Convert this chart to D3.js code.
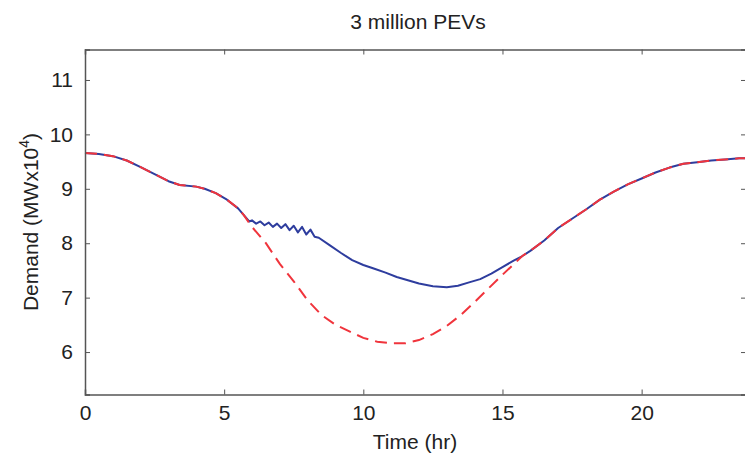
<!DOCTYPE html>
<html>
<head>
<meta charset="utf-8">
<script src="https://cdn.jsdelivr.net/npm/d3@7"></script>
<style>
  body { margin: 0; background: #fff; }
  svg { display: block; font-family: "Liberation Sans", Arial, Helvetica, sans-serif; }
</style>
</head>
<body>
<svg id="chart" width="745" height="457"></svg>
<script>
// chart data
var title = "3 million PEVs";
var xTicks = [0, 5, 10, 15, 20];
var yTicks = [6, 7, 8, 9, 10, 11];

// base demand (red dashed)
var redT = [0, 0.5, 1.0, 1.5, 2.0, 2.5, 3.0, 3.4, 4.0, 4.3, 4.7, 5.1, 5.5, 5.7,
            6.0, 6.5, 7.0, 7.5, 8.0, 8.5, 9.0, 9.5, 10.0, 10.5, 11.0, 11.5, 12.0, 12.5,
            13.0, 13.5, 14.0, 14.5, 15.0, 15.5, 15.7, 16.0, 16.5, 17.0, 17.5, 18.0, 18.5,
            19.0, 19.5, 20.0, 20.5, 21.0, 21.5, 22.0, 22.5, 23.0, 23.5, 23.75];
var redV = [9.66, 9.64, 9.60, 9.52, 9.40, 9.27, 9.14, 9.07, 9.04, 9.00, 8.92, 8.80, 8.64, 8.52,
            8.30, 8.00, 7.62, 7.30, 6.95, 6.68, 6.50, 6.38, 6.26, 6.19, 6.16, 6.16, 6.22, 6.33,
            6.48, 6.68, 6.92, 7.17, 7.42, 7.66, 7.76, 7.86, 8.05, 8.28, 8.45, 8.62, 8.80,
            8.95, 9.08, 9.19, 9.30, 9.39, 9.46, 9.49, 9.52, 9.54, 9.56, 9.56];

// demand with PEV charging (blue solid)
var blueT = [0, 0.5, 1.0, 1.5, 2.0, 2.5, 3.0, 3.4, 4.0, 4.3, 4.7, 5.1, 5.5, 5.7, 5.9,
             6.0, 6.15, 6.3, 6.45, 6.6, 6.75, 6.9, 7.05, 7.2, 7.35, 7.5, 7.65, 7.8, 7.95, 8.1, 8.25,
             8.4, 8.8, 9.2, 9.6, 10.0, 10.4, 10.8, 11.2, 11.6, 12.0, 12.5, 13.0, 13.4, 13.8,
             14.2, 14.6, 15.0, 15.4, 15.7, 16.0, 16.5, 17.0, 17.5, 18.0, 18.5,
             19.0, 19.5, 20.0, 20.5, 21.0, 21.5, 22.0, 22.5, 23.0, 23.5, 23.75];
var blueV = [9.66, 9.64, 9.60, 9.52, 9.40, 9.27, 9.14, 9.07, 9.04, 9.00, 8.92, 8.80, 8.64, 8.52, 8.40,
             8.42, 8.36, 8.40, 8.33, 8.38, 8.30, 8.36, 8.28, 8.35, 8.24, 8.32, 8.20, 8.30, 8.16, 8.25, 8.12,
             8.10, 7.96, 7.82, 7.69, 7.60, 7.53, 7.46, 7.38, 7.32, 7.26, 7.21, 7.19, 7.22, 7.28,
             7.34, 7.44, 7.56, 7.68, 7.76, 7.86, 8.05, 8.28, 8.45, 8.62, 8.80,
             8.95, 9.08, 9.19, 9.30, 9.39, 9.46, 9.49, 9.52, 9.54, 9.56, 9.56];

var margL = 85, margR = 746, margT = 49.5, margB = 394.5;
var fontSize = "21px";

var svg = d3.select("#chart");

var x = d3.scaleLinear().domain([0, 23.75]).range([margL, margR]);
var y = d3.scaleLinear().domain([5.22, 11.56]).range([margB, margT]);

var line = d3.line()
    .x(function(d){ return x(d[0]); })
    .y(function(d){ return y(d[1]); });

var blueData = d3.zip(blueT, blueV);
var redData = d3.zip(redT, redV);

// curves
svg.append("path")
    .attr("d", line(blueData))
    .attr("fill", "none")
    .attr("stroke", "#2e3d9e")
    .attr("stroke-width", 2)
    .attr("stroke-linejoin", "round");

svg.append("path")
    .attr("d", line(redData))
    .attr("fill", "none")
    .attr("stroke", "#f0343c")
    .attr("stroke-width", 2)
    .attr("stroke-dasharray", "12,7");

// axes, ticks point inward like matlab
var axisColor = "#555";
var xb = d3.axisBottom(x).tickValues(xTicks).tickSize(-5).tickPadding(11).tickFormat(d3.format("d"));
var xt = d3.axisTop(x).tickValues(xTicks).tickSize(-5).tickFormat("");
var yl = d3.axisLeft(y).tickValues(yTicks).tickSize(-5).tickPadding(12).tickFormat(d3.format("d"));
var yr = d3.axisRight(y).tickValues(yTicks).tickSize(-5).tickFormat("");

function style(g){
  g.select(".domain").attr("stroke", axisColor).attr("stroke-width", 1.5);
  g.selectAll(".tick line").attr("stroke", axisColor).attr("stroke-width", 1);
  g.selectAll(".tick text").attr("fill", "#222").style("font-size", fontSize)
    .style("font-family", "Liberation Sans, Arial, sans-serif");
}

svg.append("g").attr("transform", "translate(0," + margB + ")").call(xb).call(style);
svg.append("g").attr("transform", "translate(0," + margT + ")").call(xt).call(style);
svg.append("g").attr("transform", "translate(" + margL + ",0)").call(yl).call(style);
svg.append("g").attr("transform", "translate(" + margR + ",0)").call(yr).call(style);

// title and labels
svg.append("text")
    .attr("x", 418).attr("y", 29)
    .attr("text-anchor", "middle")
    .attr("fill", "#222")
    .style("font-size", fontSize)
    .text(title);

svg.append("text")
    .attr("x", 415).attr("y", 449)
    .attr("text-anchor", "middle")
    .attr("fill", "#222")
    .style("font-size", fontSize)
    .text("Time (hr)");

var yl2 = svg.append("text")
    .attr("transform", "translate(38,222) rotate(-90)")
    .attr("text-anchor", "middle")
    .attr("fill", "#222")
    .style("font-size", fontSize);
yl2.append("tspan").text("Demand (MWx10");
yl2.append("tspan").attr("dy", -9).style("font-size", "14px").text("4");
yl2.append("tspan").attr("dy", 9).text(")");
</script>
</body>
</html>
